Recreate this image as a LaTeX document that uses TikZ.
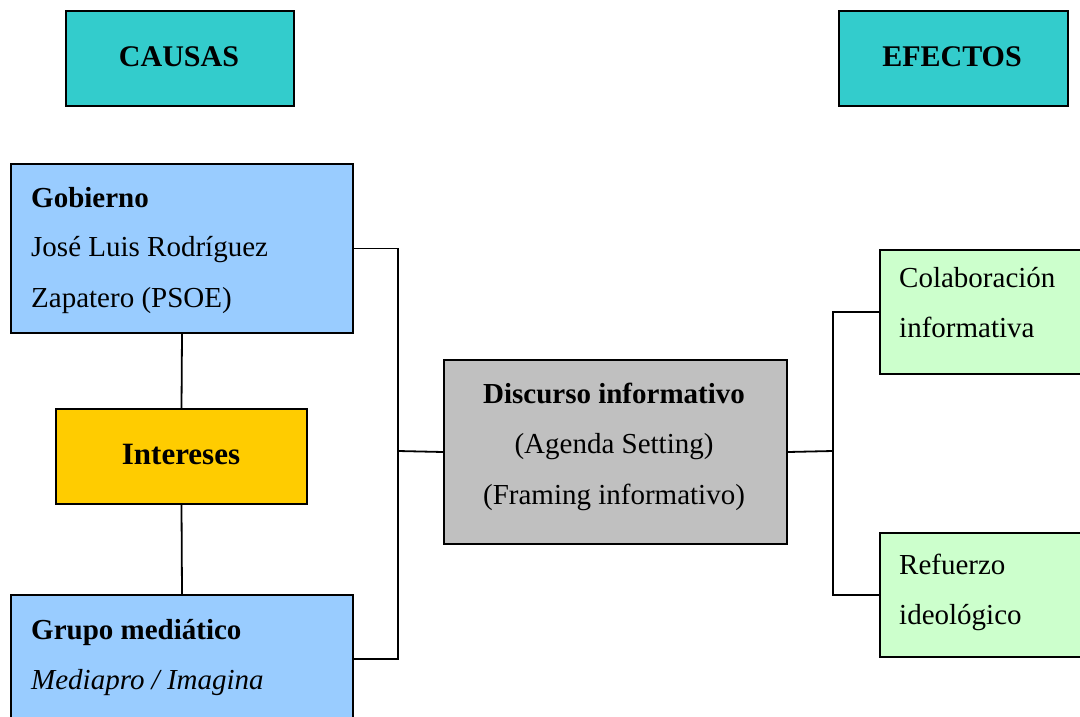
\documentclass[tikz,border=0pt]{standalone}
\usepackage{fontspec}
\setmainfont{Liberation Serif}
\definecolor{tealbox}{HTML}{33CCCC}
\definecolor{bluebox}{HTML}{99CCFF}
\definecolor{goldbox}{HTML}{FFCC00}
\definecolor{greybox}{HTML}{C0C0C0}
\definecolor{greenbox}{HTML}{CCFFCC}
\tikzset{
  box/.style={draw=black, line width=2pt, rectangle, inner sep=0pt, anchor=north west},
  txt/.style={anchor=base west, inner sep=0pt, font=\fontsize{29}{35}\selectfont},
  ctxt/.style={anchor=base, inner sep=0pt, font=\fontsize{29}{35}\selectfont},
  link/.style={draw=black, line width=1.8pt}
}
\begin{document}
\begin{tikzpicture}[x=1pt, y=-1pt]
\useasboundingbox (0,0) rectangle (1080,717);
\clip (0,0) rectangle (1080,717);
% header boxes
\node[box, fill=tealbox, minimum width=228pt, minimum height=95pt] (causas) at (65,10) {};
\node[anchor=center, inner sep=0pt, font=\fontsize{30}{36}\selectfont\bfseries] (causast) at (179,57) {CAUSAS};
\node[box, fill=tealbox, minimum width=229pt, minimum height=95pt] (efectos) at (838,10) {};
\node[anchor=center, inner sep=0pt, font=\fontsize{30}{36}\selectfont\bfseries] (efectost) at (952,57) {EFECTOS};
% left column
\node[box, fill=bluebox, minimum width=342pt, minimum height=169pt] (gob) at (10,163) {};
\node[txt, font=\fontsize{29}{35}\selectfont\bfseries] (gob1) at (31,207) {Gobierno};
\node[txt] (gob2) at (31,256) {José Luis Rodríguez};
\node[txt] (gob3) at (31,307) {Zapatero (PSOE)};
\node[box, fill=goldbox, minimum width=251pt, minimum height=95pt] (int) at (55,408) {};
\node[anchor=center, inner sep=0pt, font=\fontsize{31}{36}\selectfont\bfseries] (intt) at (181,454) {Intereses};
\node[box, fill=bluebox, minimum width=342pt, minimum height=128pt] (grupo) at (10,594) {};
\node[txt, font=\fontsize{29}{35}\selectfont\bfseries] (grupo1) at (31,639) {Grupo mediático};
\node[txt, font=\fontsize{29}{35}\selectfont\itshape] (grupo2) at (31,689) {Mediapro / Imagina};
% centre
\node[box, fill=greybox, minimum width=343pt, minimum height=184pt] (disc) at (443,359) {};
\node[ctxt, font=\fontsize{29}{35}\selectfont\bfseries] (disc1) at (614,403) {Discurso informativo};
\node[ctxt] (disc2) at (614,453) {(Agenda Setting)};
\node[ctxt] (disc3) at (614,504) {(Framing informativo)};
% right column
\node[box, fill=greenbox, minimum width=240pt, minimum height=124pt] (col) at (879,249) {};
\node[txt] (col1) at (899,287) {Colaboración};
\node[txt] (col2) at (899,337) {informativa};
\node[box, fill=greenbox, minimum width=240pt, minimum height=124pt] (ref) at (879,532) {};
\node[txt] (ref1) at (899,574) {Refuerzo};
\node[txt] (ref2) at (899,624) {ideológico};
% connectors
\coordinate (jl) at (398,451);
\coordinate (jr) at (833,451);
\draw[link] (gob.south) -- (int.north);
\draw[link] (int.south) -- (grupo.north);
\draw[link] (gob.east) -| (jl) |- (grupo.east);
\draw[link] (jl) -- (disc.west);
\draw[link] (disc.east) -- (jr);
\draw[link] (col.west) -| (jr) |- (ref.west);
\end{tikzpicture}
\end{document}
